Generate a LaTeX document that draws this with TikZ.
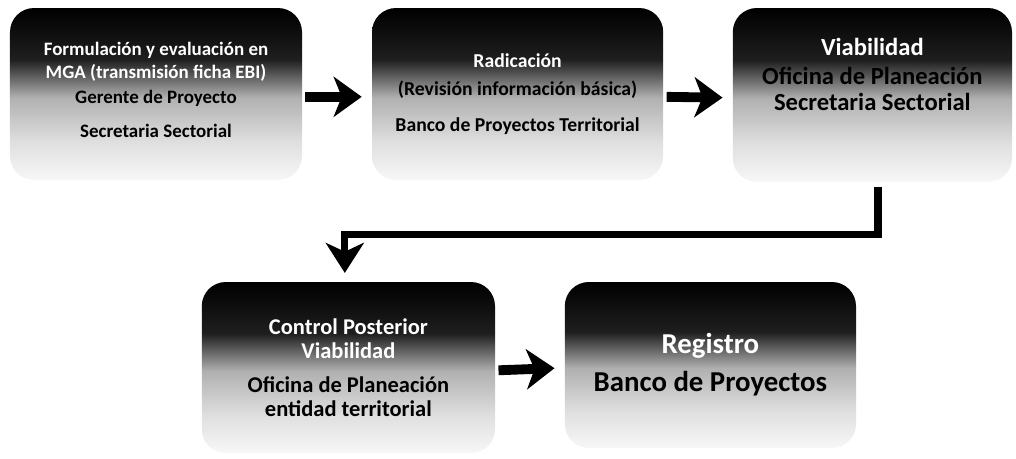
\documentclass[tikz,border=0pt]{standalone}
\usepackage{fontspec}
\setmainfont{Carlito}
\usetikzlibrary{arrows.meta}
\pgfdeclareverticalshading{fade}{100bp}{color(0bp)=(gray!6); color(25bp)=(gray!6); color(36bp)=(gray!25); color(49bp)=(gray!62); color(60bp)=(black!88); color(75bp)=(black); color(100bp)=(black)}
\tikzset{
	etapa/.style={rounded corners=0.6cm, shading=fade, minimum width=7.3cm, minimum height=4.3cm, align=center, inner sep=2pt},
	flecha/.style={line width=7pt, -{Stealth[length=0.7cm,width=1cm,inset=0.2cm]}, shorten >=0.25cm, shorten <=0.08cm},
	conector/.style={line width=5pt, -{Stealth[length=0.75cm,width=0.95cm,inset=0.22cm]}, shorten >=0.22cm, shorten <=0.12cm}
}
\newcommand{\blanco}[1]{\textcolor{white}{#1}}

\begin{document}
\begin{tikzpicture}
		\useasboundingbox (0,0) rectangle (25.4,-11.45);
		%\draw[help lines] (0,0) grid (25,-11);
		
		\node[etapa, font=\bfseries\fontsize{13.5}{16}\selectfont, text depth=0.2cm] (formulacion) at (3.9,-2.35) {
			\blanco{Formulación y evaluación en}\\ \blanco{MGA (transmisión ficha EBI)}\\[2pt]
			Gerente de Proyecto\\[8pt] Secretaria Sectorial};%first box
		
		\node[etapa, minimum width=7.28cm, font=\bfseries\fontsize{14}{17}\selectfont] (radicacion) at (12.94,-2.35) {
			\blanco{Radicación}\\[3pt] (Revisión información básica)\\[9pt] Banco de Proyectos Territorial};
		
		\node[etapa, minimum width=6.98cm, minimum height=4.35cm, text depth=1.05cm, font=\bfseries\fontsize{17.5}{18.5}\selectfont] (viabilidad) at (21.81,-2.375) {
			\blanco{Viabilidad}\\[2pt] Oficina de Planeación\\ Secretaria Sectorial};
		
		\node[etapa, minimum width=7.33cm, minimum height=4.28cm, font=\bfseries\fontsize{16}{17}\selectfont] (control) at (8.71,-9.19) {
			\blanco{Control Posterior}\\ \blanco{Viabilidad}\\[7pt] Oficina de Planeación\\ entidad territorial};
		
		\node[etapa, minimum width=7.28cm, minimum height=4.15cm, font=\bfseries\fontsize{20.5}{24}\selectfont] (registro) at (17.76,-9.125) {
			\blanco{Registro}\\[3pt] Banco de Proyectos};%last box
		
		%arrows
		\draw[flecha] ([yshift=-0.07cm]formulacion.east) -- ([yshift=-0.07cm]radicacion.west);
		\draw[flecha] ([yshift=-0.07cm]radicacion.east) -- ([yshift=-0.07cm]viabilidad.west);
		\draw[flecha] ([yshift=-0.07cm]control.east) -- ([yshift=-0.07cm]registro.west);
		\draw[conector] ([xshift=0.14cm]viabilidad.south) -- ++(0,-1.3) -| ([xshift=-0.09cm]control.north);
\end{tikzpicture}
\end{document}
